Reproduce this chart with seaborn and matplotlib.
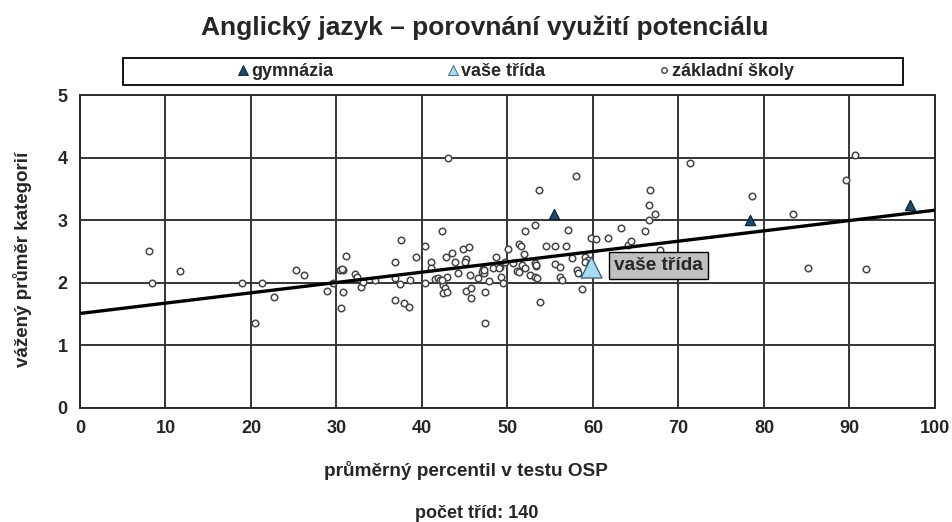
import numpy as np
import pandas as pd
import matplotlib
matplotlib.use("Agg")
import matplotlib.pyplot as plt
from matplotlib.lines import Line2D
from matplotlib.patches import Rectangle
import seaborn as sns

# základní školy (open circles)
zs_x = [8.1, 8.4, 11.7, 18.9, 20.5, 21.3, 22.7, 25.3, 26.2, 28.9,
        29.6, 30.4, 30.8, 31.1, 30.8, 30.5, 32.2, 32.4, 32.9, 33.1,
        34.5, 36.8, 36.8, 36.8, 37.4, 37.5, 37.9, 38.5, 38.6, 39.3,
        40.3, 40.3, 41.1, 41.1, 41.5, 41.9, 42.1, 42.3, 42.5, 42.7,
        42.5, 42.9, 42.9, 42.8, 43.0, 43.5, 43.9, 44.2, 44.8, 45.5,
        45.1, 45.0, 45.6, 45.1, 45.7, 45.7, 46.6, 47.1, 47.0, 47.3,
        47.8, 47.4, 47.4, 48.3, 48.7, 49.1, 49.2, 49.5, 49.7, 50.1,
        50.7, 51.1, 51.3, 51.6, 51.3, 51.7, 51.9, 52.1, 52.1, 52.6,
        53.2, 53.2, 53.3, 53.2, 53.4, 53.7, 53.8, 54.5, 55.6, 55.6,
        56.1, 56.1, 56.4, 56.8, 57.1, 57.5, 58.0, 58.1, 58.3, 58.7,
        59.1, 59.4, 59.1, 59.8, 60.4, 61.7, 63.3, 64.1, 64.4, 66.1,
        66.5, 66.5, 66.7, 67.3, 67.8, 71.4, 78.6, 83.4, 85.2, 89.6,
        90.6, 91.9, 30.6, 42.4, 47.2, 53.3, 49.0, 59.6]
zs_y = [2.50, 1.99, 2.19, 1.99, 1.35, 1.99, 1.78, 2.20, 2.12, 1.87,
        2.00, 2.20, 2.21, 2.43, 1.86, 1.60, 2.14, 2.09, 1.94, 2.02,
        2.04, 2.34, 2.07, 1.73, 1.98, 2.69, 1.68, 1.61, 2.04, 2.41,
        2.59, 1.99, 2.34, 2.24, 2.06, 2.08, 2.04, 2.83, 1.96, 1.91,
        1.83, 1.86, 2.10, 2.41, 4.00, 2.48, 2.33, 2.15, 2.54, 2.57,
        2.38, 2.34, 2.12, 1.87, 1.91, 1.75, 2.07, 2.22, 2.18, 2.15,
        2.03, 1.86, 1.35, 2.23, 2.41, 2.26, 2.10, 1.99, 2.34, 2.54,
        2.31, 2.19, 2.62, 2.59, 2.18, 2.28, 2.46, 2.23, 2.83, 2.12,
        2.93, 2.31, 2.27, 2.09, 2.07, 3.49, 1.70, 2.59, 2.59, 2.30,
        2.26, 2.10, 2.04, 2.59, 2.84, 2.40, 3.71, 2.20, 2.16, 1.90,
        2.42, 2.36, 2.34, 2.71, 2.70, 2.72, 2.88, 2.60, 2.66, 2.83,
        3.00, 3.25, 3.49, 3.10, 2.53, 3.91, 3.38, 3.10, 2.24, 3.65,
        4.04, 2.22, 2.22, 2.05, 2.20, 2.29, 2.24, 2.30]

# gymnázia
gym_x = [55.5, 78.4, 97.1]
gym_y = [3.10, 3.00, 3.25]

# vaše třída
trida_x = [59.8]
trida_y = [2.26]

# regression line
trend_x = [0, 100]
trend_y = [1.51, 3.16]

x_ticks = list(range(0, 101, 10))
y_ticks = [0, 1, 2, 3, 4, 5]

sns.set_style("white")
plt.rcParams['font.family'] = ['Liberation Sans', 'DejaVu Sans']
plt.rcParams['font.weight'] = 'bold'

fig = plt.figure(figsize=(9.53, 5.22), dpi=100)
ax = fig.add_axes([0.0839, 0.2184, 0.8972, 0.5996])

ax.grid(True, color='#353535', lw=1.4)
ax.set_axisbelow(True)

sns.scatterplot(x=zs_x, y=zs_y, ax=ax, marker='o', s=22, color='white',
                edgecolor='#454545', linewidth=1.1, zorder=3)
sns.lineplot(x=trend_x, y=trend_y, ax=ax, color='black', lw=2.4, zorder=4)
sns.scatterplot(x=gym_x, y=gym_y, ax=ax, marker='^', s=55, color='#1c4a6e',
                edgecolor='#0a1a28', linewidth=0.8, zorder=5)
sns.scatterplot(x=trida_x, y=trida_y, ax=ax, marker='^', s=230, color='#a6dcf2',
                edgecolor='#3a5a6a', linewidth=0.9, zorder=5)

ax.annotate('vaše třída', xy=(trida_x[0], trida_y[0]), xytext=(23, 1),
            textcoords='offset pixels', ha='left', va='center',
            fontsize=13.7, fontweight='bold', zorder=6,
            bbox=dict(boxstyle='square,pad=0.28', fc='#c0c0c0', ec='black', lw=1))

ax.set_xlim(0, 100)
ax.set_ylim(0, 5)
ax.set_xticks(x_ticks)
ax.set_yticks(y_ticks)
ax.tick_params(axis='both', direction='out', length=4, width=1, color='#333333',
               labelsize=13, pad=5)
for lbl in ax.get_xticklabels() + ax.get_yticklabels():
    lbl.set_fontweight('bold')
for sp in ax.spines.values():
    sp.set_color('#2a2a2a')
    sp.set_linewidth(1.4)

ax.set_xlabel('')
ax.set_ylabel('')
fig.text(0.0231, 1 - 259 / 522, 'vážený průměr kategorií', rotation=90, ha='center',
         va='center', fontsize=13.5, fontweight='bold')
fig.text(0.489, 1 - 470 / 522, 'průměrný percentil v testu OSP', ha='center', va='center',
         fontsize=13.7, fontweight='bold')
fig.text(0.500, 1 - 513 / 522, 'počet tříd: 140', ha='center', va='center',
         fontsize=13, fontweight='bold')
fig.text(0.509, 1 - 28 / 522, 'Anglický jazyk – porovnání využití potenciálu',
         ha='center', va='center', fontsize=19, fontweight='bold')

# legend frame
fig.patches.append(Rectangle((123 / 953, 1 - 85 / 522), 780 / 953, 27 / 522,
                             transform=fig.transFigure, fc='white', ec='black', lw=1.3))
handles = [
    Line2D([], [], ls='', marker='^', ms=6.5, mfc='#1c4a6e', mec='#0a1a28', mew=0.6),
    Line2D([], [], ls='', marker='^', ms=6.5, mfc='#a6dcf2', mec='#3a5a6a', mew=0.6),
    Line2D([], [], ls='', marker='o', ms=4, mfc='white', mec='#454545', mew=1),
]
fig.legend(handles, ['gymnázia', 'vaše třída', 'základní školy'], ncol=3,
           loc='center', bbox_to_anchor=(516 / 953, 1 - 71.5 / 522), frameon=False,
           prop={'size': 13, 'weight': 'bold'}, handlelength=0.6, handletextpad=0.15,
           columnspacing=6.3)

fig.savefig('out.png', dpi=100)
